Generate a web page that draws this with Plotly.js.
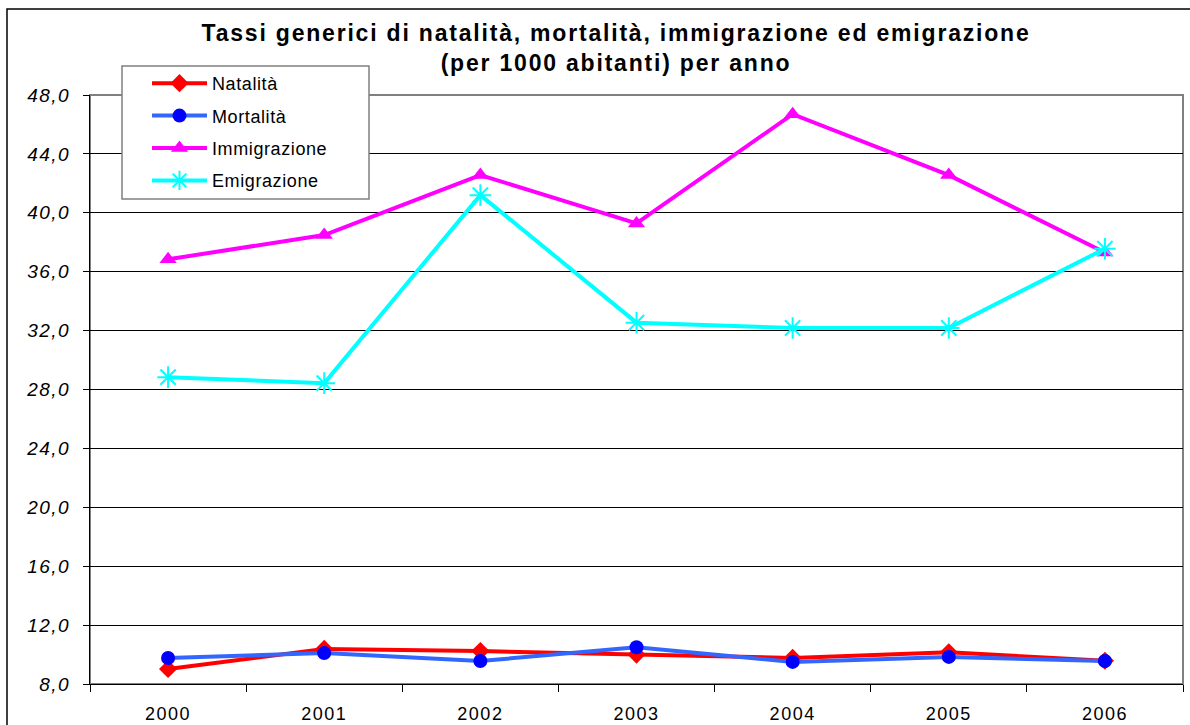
<!DOCTYPE html>
<html>
<head>
<meta charset="utf-8">
<script src="https://cdn.plot.ly/plotly-3.0.1.min.js"></script>
<style>
  html, body { margin: 0; padding: 0; background: #fff; }
  #chart { width: 1190px; height: 725px; }
  .gtitle { letter-spacing: 1.8px; }
  .legendtext { letter-spacing: 0.6px; }
  .ytick text { letter-spacing: 1.5px; }
  .xtick text { letter-spacing: 1.5px; }
</style>
</head>
<body>
<div id="chart"></div>
<script>
const years = ["2000", "2001", "2002", "2003", "2004", "2005", "2006"];
const natalita = [9.02, 10.38, 10.24, 10.0, 9.77, 10.15, 9.58];
const mortalita = [9.77, 10.1, 9.56, 10.5, 9.5, 9.84, 9.56];
const immigrazione = [36.84, 38.49, 42.56, 39.28, 46.7, 42.56, 37.3];
const emigrazione = [28.84, 28.43, 41.2, 32.54, 32.18, 32.18, 37.56];
const seriesNames = ["Natalità", "Mortalità", "Immigrazione", "Emigrazione"];

const fontFam = '"Liberation Sans", Arial, sans-serif';

const traces = [
  { x: years, y: natalita, name: seriesNames[0], legendgroup: 'a', type: 'scatter', mode: 'lines+markers',
    line: { color: '#FF0000', width: 4 }, marker: { symbol: 'diamond', size: 14, color: '#FF0000' } },
  { x: years, y: mortalita, name: seriesNames[1], legendgroup: 'b', type: 'scatter', mode: 'lines+markers',
    line: { color: '#3366FF', width: 4 }, marker: { symbol: 'circle', size: 14, color: '#0000FF' } },
  { x: years, y: immigrazione, name: seriesNames[2], legendgroup: 'c', type: 'scatter', mode: 'lines+markers',
    line: { color: '#FF00FF', width: 4 }, marker: { symbol: 'triangle-up', size: 15, color: '#FF00FF' } },
  { x: years, y: emigrazione, name: seriesNames[3], legendgroup: 'd', type: 'scatter', mode: 'lines+markers',
    line: { color: '#00FFFF', width: 4 }, marker: { symbol: 'asterisk-open', size: 18, color: '#00FFFF', line: { color: '#00FFFF', width: 2 } } }
];

const layout = {
  width: 1190, height: 725,
  paper_bgcolor: '#fff', plot_bgcolor: '#fff',
  separators: ',.',
  font: { family: fontFam, color: '#000' },
  margin: { l: 90, r: 7, t: 95, b: 41, pad: 0 },
  showlegend: true,
  title: {
    text: 'Tassi generici di natalità, mortalità, immigrazione ed emigrazione<br>(per 1000 abitanti) per anno',
    font: { family: fontFam, size: 23, color: '#000', weight: 'bold' },
    x: 616 / 1190, xanchor: 'center', xref: 'container',
    y: 1 - 41 / 725, yanchor: 'top', yref: 'container'
  },
  xaxis: {
    type: 'category', range: [-0.5, 6.5],
    showline: true, linecolor: '#000', linewidth: 1,
    ticks: 'outside', tickson: 'boundaries', ticklen: 7, tickcolor: '#000', tickwidth: 1,
    showgrid: false, zeroline: false,
    tickfont: { family: fontFam, size: 18, color: '#000' },
    ticklabelstandoff: 13
  },
  yaxis: {
    range: [8, 48], dtick: 4, tick0: 8, tickformat: '.1f',
    showline: true, linecolor: '#000', linewidth: 1,
    ticks: 'outside', ticklen: 6, tickcolor: '#000', tickwidth: 1,
    showgrid: true, gridcolor: '#000', gridwidth: 1, zeroline: false,
    tickfont: { family: fontFam, size: 19, color: '#000', style: 'italic' },
    ticklabelstandoff: 9
  },
  legend: {
    x: (147 - 90) / 1093, xanchor: 'left',
    y: (684 - 65) / 589, yanchor: 'top',
    bgcolor: 'rgba(0,0,0,0)', borderwidth: 0,
    font: { family: fontFam, size: 18, color: '#000' },
    tracegroupgap: 6, traceorder: 'grouped', itemwidth: 55
  },
  shapes: [
    { type: 'rect', xref: 'paper', yref: 'paper', x0: 0, x1: 1, y0: 0, y1: 1,
      line: { color: '#808080', width: 2 }, fillcolor: 'rgba(0,0,0,0)', layer: 'below' },
    { type: 'rect', xref: 'paper', yref: 'paper',
      x0: (7 - 90) / 1093, x1: (1200 - 90) / 1093, y0: (684 - 730) / 589, y1: (684 - 9) / 589,
      line: { color: '#000', width: 1.5 }, fillcolor: 'rgba(0,0,0,0)', layer: 'below' },
    { type: 'rect', xref: 'paper', yref: 'paper',
      x0: (122 - 90) / 1093, x1: (369 - 90) / 1093, y0: (684 - 199) / 589, y1: (684 - 66) / 589,
      line: { color: '#808080', width: 1.5 }, fillcolor: '#fff', layer: 'above' }
  ]
};

Plotly.newPlot('chart', traces, layout, { displayModeBar: false, staticPlot: true });
</script>
</body>
</html>
